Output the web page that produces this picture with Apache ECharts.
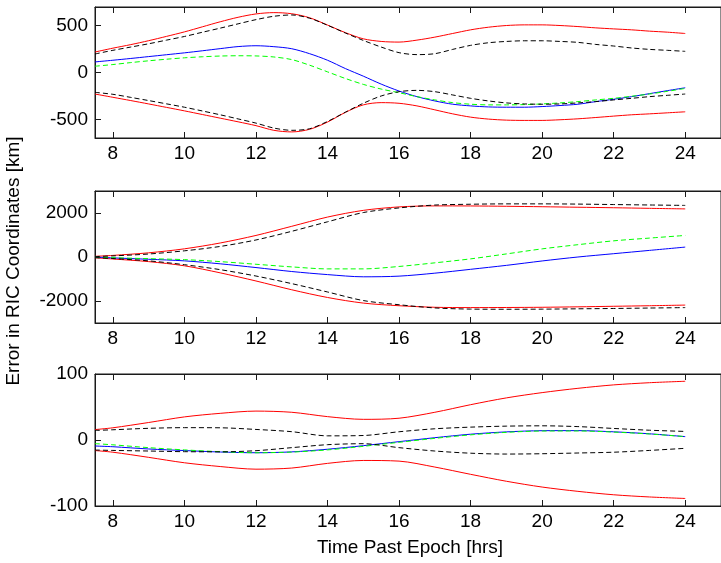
<!DOCTYPE html>
<html><head><meta charset="utf-8">
<script src="https://cdn.jsdelivr.net/npm/echarts@6/dist/echarts.min.js"></script>
<style>html,body{margin:0;padding:0;background:#fff}#c{width:721px;height:563px}</style>
</head><body><div id="c"></div>
<script>
// Time samples
var hoursHalf = [7.5, 8, 8.5, 9, 9.5, 10, 10.5, 11, 11.5, 12, 12.5, 13, 13.5, 14, 14.5, 15, 15.5, 16, 16.5, 17, 17.5, 18, 18.5, 19, 19.5, 20, 20.5, 21, 21.5, 22, 22.5, 23, 23.5, 24];
var hours = [7.5, 8, 9, 10, 11, 12, 13, 14, 15, 16, 17, 18, 19, 20, 21, 22, 23, 24];
var xTicks = [8, 10, 12, 14, 16, 18, 20, 22, 24];
var yTicks1 = [-500, 0, 500];
var yTicks2 = [-2000, 0, 2000];
var yTicks3 = [-100, 0, 100];

// Panel 1 (sampled on hoursHalf)
var red1Upper = [219, 260, 298, 340, 386, 434, 488, 542, 590, 626, 640, 628, 585, 507, 426, 360, 332, 325, 346, 378, 417, 456, 484, 502, 509, 509, 502, 491, 477, 466, 456, 442, 431, 417];
var red1Lower = [-230, -265, -300, -336, -373, -410, -449, -488, -527, -568, -618, -635, -607, -530, -426, -346, -322, -329, -357, -399, -442, -477, -498, -509, -512, -512, -505, -495, -481, -466, -452, -442, -431, -420];
var blk1Upper = [198, 237, 272, 307, 346, 385, 430, 474, 520, 565, 601, 615, 580, 505, 422, 343, 272, 212, 191, 201, 247, 290, 318, 332, 339, 339, 332, 322, 300, 283, 262, 247, 237, 226];
var blk1Lower = [-212, -233, -266, -300, -335, -371, -411, -452, -496, -541, -594, -618, -601, -523, -424, -329, -251, -205, -191, -205, -240, -276, -304, -325, -336, -339, -336, -325, -311, -293, -276, -258, -244, -230];
var blue1 = [113, 131, 150, 170, 190, 210, 232, 255, 277, 286, 276, 254, 201, 131, 42, -39, -124, -198, -258, -304, -339, -357, -368, -371, -371, -364, -353, -339, -311, -286, -258, -226, -194, -163];
var green1 = [67, 85, 106, 125, 142, 157, 168, 176, 179, 177, 166, 138, 78, 7, -64, -127, -177, -216, -258, -293, -322, -339, -346, -346, -343, -336, -325, -311, -293, -276, -254, -230, -201, -170];

// Panel 2 (sampled on hours)
var red2Upper = [30, 73, 190, 372, 637, 980, 1395, 1815, 2120, 2277, 2323, 2320, 2305, 2285, 2262, 2239, 2212, 2186];
var red2Lower = [-35, -90, -210, -400, -720, -1090, -1490, -1840, -2095, -2215, -2285, -2300, -2295, -2285, -2265, -2240, -2215, -2186];
var blk2Upper = [20, 50, 136, 281, 480, 774, 1168, 1600, 2020, 2231, 2361, 2398, 2415, 2415, 2405, 2384, 2364, 2345];
var blk2Lower = [-30, -70, -175, -350, -575, -865, -1210, -1590, -1980, -2170, -2315, -2368, -2375, -2370, -2355, -2340, -2320, -2300];
var blue2 = [0, -40, -103, -175, -310, -480, -660, -800, -900, -870, -735, -560, -380, -180, 0, 150, 300, 450];
var green2 = [0, -30, -76, -120, -210, -330, -450, -540, -540, -430, -265, -85, 140, 370, 560, 735, 860, 980];

// Panel 3 (sampled on hours)
var red3Upper = [15.8, 18.5, 26.5, 35, 40.4, 43.8, 42, 35.4, 31.3, 33, 42, 53.5, 63.8, 71.8, 78.3, 83.5, 86.8, 89];
var red3Lower = [-16, -18.5, -26.3, -34.5, -40.2, -44.2, -42.5, -35.4, -31, -32, -41, -52, -62.5, -71.3, -77.8, -83, -86.3, -88.6];
var blk3Upper = [14.5, 15.5, 17.7, 18.7, 18.5, 16, 12.6, 6.3, 6.8, 12.5, 17, 19.5, 21, 21.5, 20.3, 17.5, 14.8, 13];
var blk3Lower = [-15.2, -15.8, -16.7, -17.7, -17.9, -16.2, -11.6, -7.1, -5.6, -11.6, -16.7, -20, -21.3, -20.8, -19.7, -18.5, -15.8, -12.6];
var blue3 = [-9.1, -10.2, -13.6, -16, -18.2, -19.3, -18, -14, -8.6, -2.5, 3.5, 8.8, 12.3, 14.1, 14.2, 12.4, 9.4, 5.1];
var green3 = [-5.5, -7.3, -11.6, -15, -17.7, -19.3, -18.3, -15, -9.6, -3.5, 2.5, 7.8, 11.6, 13.6, 13.7, 12, 9.1, 5.1];

var yLabel = 'Error in RIC Coordinates [km]';
var xLabel = 'Time Past Epoch [hrs]';

var FONT = 'Liberation Sans, Arial, sans-serif';
var FS = 19;
var AX = '#1a1a1a';

function pairs(xs, arr){ return xs.map(function(h,i){ return [h, arr[i]]; }); }
function plain(v){ return String(v); }

var gridsPos = [{top:7, height:131}, {top:191, height:132}, {top:374, height:132}];
var yRanges = [[-700,700,yTicks1],[-3000,3000,yTicks2],[-100,100,yTicks3]];
var panelX = [hoursHalf, hours, hours];
var panels = [
  [red1Upper, red1Lower, blue1, green1, blk1Upper, blk1Lower],
  [red2Upper, red2Lower, blue2, green2, blk2Upper, blk2Lower],
  [red3Upper, red3Lower, blue3, green3, blk3Upper, blk3Lower]
];
var styles = [
  {color:'#ff0000', type:'solid'},
  {color:'#ff0000', type:'solid'},
  {color:'#0000ff', type:'solid'},
  {color:'#00ff00', type:[5,3]},
  {color:'#000000', type:[5,3]},
  {color:'#000000', type:[5,3]}
];

var grid = [], xAxis = [], yAxis = [], series = [];
gridsPos.forEach(function(g, k){
  grid.push({left:95, width:633, top:g.top, height:g.height, show:true, borderColor:AX, borderWidth:1, backgroundColor:'#fff'});
  xAxis.push({type:'value', gridIndex:k, min:7.5, max:25, position:'bottom',
    axisLine:{show:true, onZero:false, lineStyle:{color:AX}},
    axisTick:{show:true, inside:true, length:6, customValues:xTicks, lineStyle:{color:AX}},
    axisLabel:{customValues:xTicks, color:'#000', fontFamily:FONT, fontSize:FS, margin:6, formatter:plain},
    splitLine:{show:false}});
  xAxis.push({type:'value', gridIndex:k, min:7.5, max:25, position:'top',
    axisLine:{show:true, onZero:false, lineStyle:{color:AX}},
    axisTick:{show:true, inside:true, length:6, customValues:xTicks, lineStyle:{color:AX}},
    axisLabel:{show:false}, splitLine:{show:false}});
  var r = yRanges[k];
  yAxis.push({type:'value', gridIndex:k, min:r[0], max:r[1],
    axisLine:{show:true, onZero:false, lineStyle:{color:AX}},
    axisTick:{show:true, inside:true, length:6, customValues:r[2], lineStyle:{color:AX}},
    axisLabel:{customValues:r[2], color:'#000', fontFamily:FONT, fontSize:FS, margin:7, formatter:plain},
    splitLine:{show:false}});
  panels[k].forEach(function(arr, j){
    series.push({type:'line', xAxisIndex:2*k, yAxisIndex:k, data:pairs(panelX[k], arr), smooth:0.3,
      showSymbol:false, symbol:'none', animation:false, silent:true,
      lineStyle:{color:styles[j].color, width:1, type:styles[j].type}});
  });
});

var chart = echarts.init(document.getElementById('c'), null, {renderer:'canvas'});
chart.setOption({
  animation:false,
  backgroundColor:'#fff',
  grid:grid, xAxis:xAxis, yAxis:yAxis, series:series,
  graphic:[
    {type:'text', x:14, y:261, rotation:Math.PI/2, style:{text:yLabel, fontFamily:FONT, fontSize:FS, fill:'#000', align:'center', verticalAlign:'middle'}},
    {type:'text', x:410, y:548, style:{text:xLabel, fontFamily:FONT, fontSize:FS, fill:'#000', align:'center', verticalAlign:'middle'}}
  ]
});
</script></body></html>
